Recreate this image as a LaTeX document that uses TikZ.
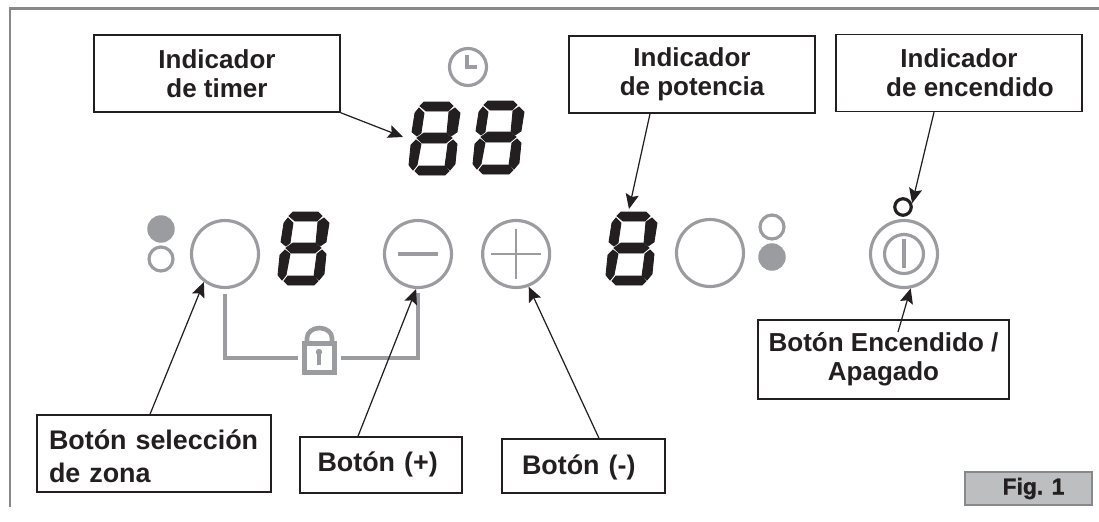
\documentclass[tikz,border=0pt]{standalone}
\usepackage{fontspec}
\setmainfont{Liberation Sans}
\newfontfamily\figfont[BoldFont={Liberation Sans Bold},BoldFeatures={FakeBold=1.2}]{Liberation Sans}
\usetikzlibrary{positioning, arrows.meta}
\definecolor{ink}{HTML}{231F20}
\definecolor{panelgray}{HTML}{9B9C9F}
\definecolor{framegray}{HTML}{87888B}
\definecolor{figfill}{HTML}{BCBEC0}

\begin{document}
\begin{tikzpicture}[x=0.02cm, y=-0.02cm]
	% ----- Styles -----
	\tikzset{
		box/.style={
			rectangle, draw=ink, line width=.85pt, text=ink,
			minimum width=4.92cm, minimum height=1.54cm,
			align=center, font=\bfseries\fontsize{14.8}{16.5}\selectfont,
			execute at begin node={\rule{0pt}{13.1pt}}
		},
		leftbox/.style={
			box, align=left, minimum width=0pt, inner ysep=0pt,
			font=\bfseries\fontsize{15.3}{19}\selectfont,
			execute at begin node={}
		},
		btn/.style={
			circle, draw=panelgray, line width=1.8pt,
			minimum size=1.34cm, inner sep=0pt
		},
		lampon/.style={
			circle, fill=panelgray, minimum size=.55cm, inner sep=0pt
		},
		lampoff/.style={
			circle, draw=panelgray, line width=1.8pt,
			minimum size=.48cm, inner sep=0pt
		},
		mark line/.style={draw=panelgray, line width=1.8pt},
		arrow/.style={ink, line width=.7pt, -{Stealth[length=8.5pt, width=7.5pt, inset=1.5pt]}},
		seg/.style={fill=ink, draw=ink, line width=.5pt},
		segdigit/.pic={
			\path[seg] (11,4) -- (15,0) -- (40,0) -- (44,4) -- (39,9) -- (17,9) -- cycle;
			\path[seg] (46,6) -- (51,11) -- (48,30) -- (42,34) -- (38,31) -- (40,10) -- cycle;
			\path[seg] (10,6) -- (15,11) -- (12,31) -- (8,34) -- (3,30) -- (6,11) -- cycle;
			\path[seg] (8,36) -- (15,31) -- (37,31) -- (43,36) -- (37,41) -- (13,41) -- cycle;
			\path[seg] (7,38) -- (12,42) -- (8,63) -- (4,68) -- (0,63) -- (2,43) -- cycle;
			\path[seg] (44,38) -- (48,42) -- (46,62) -- (41,68) -- (36,64) -- (39,42) -- cycle;
			\path[seg] (6,69) -- (10,64) -- (35,64) -- (40,69) -- (36,73) -- (10,73) -- cycle;
		}
	}
	\useasboundingbox (0,0) rectangle (1099,521);
	% ----- Frame -----
	\draw[framegray, line width=1.7pt] (10,507) -- (10,8.5) -- (1099,8.5);
	% ----- Labels -----
	\node (timerbox) [box] at (217,73.5) {Indicador\\de timer};
	\node (potbox)   [box] at (692,74.5) {Indicador\\de potencia};
	\node (onbox)    [box] at (959,73)   {Indicador\\\hspace*{.44cm}de encendido};
	\node (zonebox)  [leftbox, minimum width=4.68cm, minimum height=1.54cm, text width=4.2cm, inner xsep=.24cm,
		execute at begin node={\rule{0pt}{14.5pt}}] at (154,453.5) {Botón selección\\de zona};
	\node (plusbox)  [leftbox, minimum width=3.24cm, minimum height=1.12cm, text width=2.54cm, inner xsep=.35cm,
		execute at begin node={\rule[-5.5pt]{0pt}{0pt}}] at (381,465) {Botón (+)};
	\node (minusbox) [leftbox, minimum width=3.26cm, minimum height=1.08cm, text width=2.46cm, inner xsep=.4cm] at (583.5,466) {Botón (-)};
	\node (powerbox) [box, minimum width=5.02cm, minimum height=1.58cm] at (883.5,359.5) {Botón Encendido /\\Apagado};
	\node (figbox)   [rectangle, draw=framegray, fill=figfill, line width=.85pt, text=ink,
		minimum width=2.54cm, minimum height=.66cm, inner sep=0pt,
		font=\figfont\bfseries\fontsize{13}{15}\selectfont] at (1028.5,488.5) {\hspace*{.2cm}Fig. 1};
	% ----- Panel -----
	\node (zonebtn)  [btn] at (225,254) {};
	\node (minusbtn) [btn] at (418,254) {};
	\node (plusbtn)  [btn, right=.56cm of minusbtn] {};
	\node (rightbtn) [btn] at (710,253) {};
	\node (powerbtn) [btn] at (904,254) {};
	\node (powerin)  [circle, draw=panelgray, line width=1.8pt, minimum size=.78cm, inner sep=0pt] at (904,254) {};
	\node (powerled) [circle, draw=ink, line width=1.8pt, minimum size=.33cm, inner sep=0pt] at (903,207) {};
	\node (lampa) [lampon]  at (161,229) {};
	\node (lampb) [lampoff] at (161,259) {};
	\node (lampc) [lampoff] at (772,227) {};
	\node (lampd) [lampon]  at (772,257) {};
	\node (clock) [circle, draw=panelgray, line width=1.8pt, minimum size=.74cm, inner sep=0pt] at (468,67) {};
	\node (lock)  [rectangle, draw=panelgray, line width=2.8pt, minimum width=.6cm, minimum height=.58cm, inner sep=0pt] at (319.5,358) {};
	\pic at (278,212) {segdigit};
	\pic at (409,102) {segdigit};
	\pic at (473,101) {segdigit};
	\pic at (606,212) {segdigit};
	\coordinate (timerdigit) at (403,137);
	\coordinate (potdigit)   at (629,209);
	\coordinate (powertail)  at (898,332);
	% marks inside the buttons
	\draw[mark line] ([xshift=-.4cm]minusbtn.center) -- ([xshift=.4cm]minusbtn.center);
	\draw[mark line, line width=1.5pt] ([xshift=-.5cm]plusbtn.center) -- ([xshift=.5cm]plusbtn.center);
	\draw[mark line, line width=1.5pt] ([yshift=-.5cm]plusbtn.center) -- ([yshift=.5cm]plusbtn.center);
	\draw[mark line] ([yshift=.3cm]powerbtn.center) -- ([yshift=-.28cm]powerbtn.center);
	\draw[mark line] ([xshift=-.02cm,yshift=.24cm]clock.center) -- ([xshift=-.02cm]clock.center) -- ([xshift=.18cm]clock.center);
	% lock
	\draw[panelgray, line width=2.6pt] (307,341) -- (307,338) arc[start angle=180, end angle=0, x radius=12.5, y radius=-10] -- (332,341);
	\fill[panelgray] (319,352) circle[radius=3.2];
	\draw[panelgray, line width=2.6pt] (319,352) -- (319,365);
	% ----- Connectors -----
	\draw[mark line] ([yshift=-.1cm]zonebtn.south) |- ([xshift=-.08cm]lock.west);
	\draw[mark line] ([yshift=-.08cm]minusbtn.south) |- ([xshift=.08cm]lock.east);
	\draw[arrow] (timerbox.south east) -- (timerdigit);
	\draw[arrow] ([xshift=-.84cm]potbox.south) -- (potdigit);
	\draw[arrow] ([xshift=-.5cm]onbox.south) -- (powerled.22);
	\draw[arrow] ([xshift=-.08cm]zonebox.north) -- (zonebtn.-127);
	\draw[arrow] ([xshift=-.46cm]plusbox.north) -- (minusbtn.-93);
	\draw[arrow] ([xshift=.31cm]minusbox.north) -- (plusbtn.-69);
	\draw[arrow] (powertail) -- (powerbtn.-79);
\end{tikzpicture}
\end{document}
